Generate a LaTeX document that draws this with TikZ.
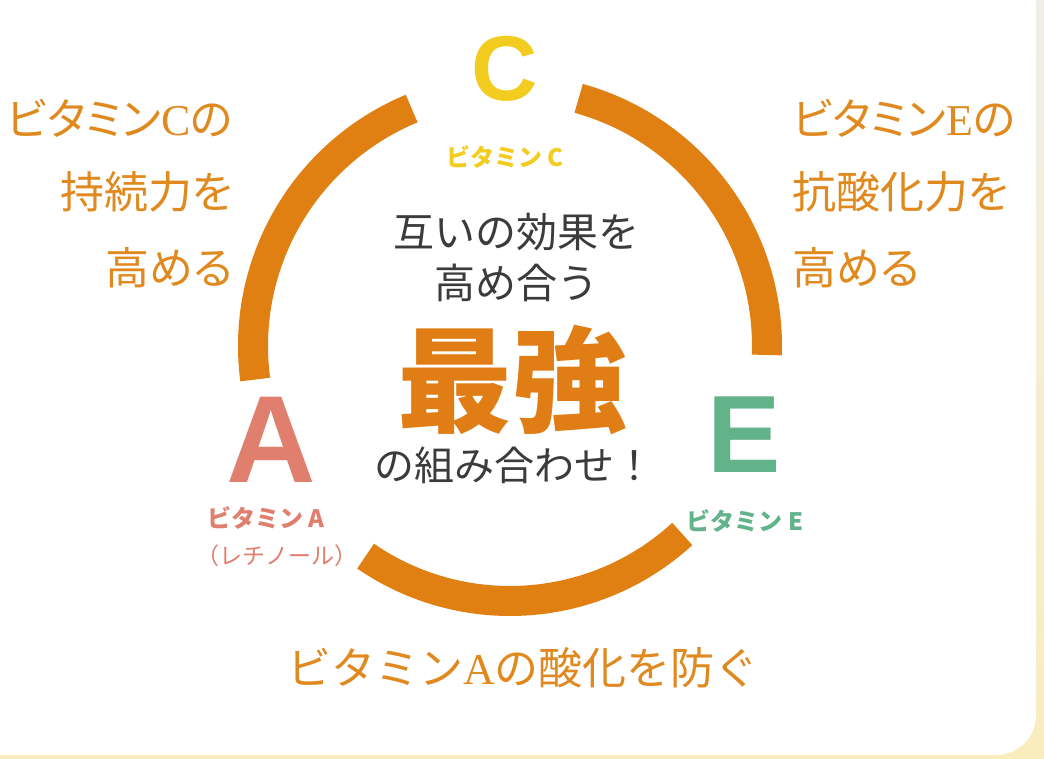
\documentclass[tikz,border=0pt]{standalone}
\usepackage{fontspec}
\newfontfamily\jp{Noto Sans CJK JP}
\newfontfamily\jpp[RawFeature=+palt]{Noto Sans CJK JP}
\newfontfamily\lat{Liberation Sans}
\newfontfamily\latser{Liberation Serif}
\definecolor{bgtop}{HTML}{F0EEE8}
\definecolor{bgbot}{HTML}{F9EDBD}
\definecolor{ringc}{HTML}{E08012}
\definecolor{cyel}{HTML}{F2CC1F}
\definecolor{asal}{HTML}{E07F6E}
\definecolor{egrn}{HTML}{63B38A}
\definecolor{sideor}{HTML}{E0891E}
\definecolor{strong}{HTML}{E07D14}
\definecolor{darkg}{HTML}{3B3B3B}
\tikzset{
  ringarc/.style={draw=ringc, line width=30pt},
  bigletter/.style={inner sep=0pt, font=\lat\bfseries\fontsize{#1}{#1}\selectfont},
  vlabel/.style={inner sep=0pt, font=\jp\bfseries\fontsize{24}{24}\selectfont},
  sidetext/.style={inner sep=0pt, text=sideor, font=\jpp\fontsize{44}{44}\selectfont},
  centertext/.style={inner sep=0pt, text=darkg, font=\jp\fontsize{#1}{#1}\selectfont}
}
\begin{document}
\begin{tikzpicture}[x=1pt,y=-1pt]
\useasboundingbox (0,0) rectangle (1044,759);
\shade[top color=bgtop, bottom color=bgbot] (0,0) rectangle (1044,759);
\fill[white, rounded corners=40pt] (-60,-60) rectangle (1036,755);

% ring
\begin{scope}[shift={(510,346)}, yscale=-1]
  \draw[ringarc] (112.5:257) arc[start angle=112.5, end angle=187.5, radius=257];
  \draw[ringarc] (-2:257) arc[start angle=-2, end angle=74.5, radius=257];
  \draw[ringarc] (235.5:255) arc[start angle=235.5, end angle=312.5, radius=255];
\end{scope}

% big letters
\node[bigletter=92, text=cyel] (C) at (504.5,69) {C};
\node[bigletter=124, text=asal] (A) at (271,440) {A};
\node[bigletter=110, text=egrn] (E) at (744,435) {E};

% vitamin labels
\node[vlabel, text=cyel] (vc) at (505,157) {ビタミン C};
\node[vlabel, text=asal] (va) at (266,518) {ビタミン A};
\node[inner sep=0pt, text=asal, font=\jp\fontsize{23}{23}\selectfont] (ret) at (277,556) {（レチノール）};
\node[vlabel, text=egrn] (ve) at (745,521) {ビタミン E};

% center texts
\node[centertext=41] (t1) at (516,232) {互いの効果を};
\node[centertext=41] (t2) at (516,283) {高め合う};
\node[inner sep=0pt, text=strong, font=\jp\bfseries\fontsize{115}{115}\selectfont] (t3) at (512,380) {最強};
\node[centertext=40] (t4) at (514,465) {の組み合わせ！};

% left side text
\node[sidetext, anchor=east] (l1) at (233,118) {ビタミン{\latser C}の};
\node[sidetext, anchor=east] (l2) at (233,192) {持続力を};
\node[sidetext, anchor=east] (l3) at (233,268) {高める};

% right side text
\node[sidetext, anchor=west] (r1) at (792,118) {ビタミン{\latser E}の};
\node[sidetext, anchor=west] (r2) at (792,192) {抗酸化力を};
\node[sidetext, anchor=west] (r3) at (792,268) {高める};

% bottom text
\node[inner sep=0pt, text=sideor, font=\jp\fontsize{44}{44}\selectfont] (b1) at (523,668) {ビタミン{\latser A}の酸化を防ぐ};
\end{tikzpicture}
\end{document}
